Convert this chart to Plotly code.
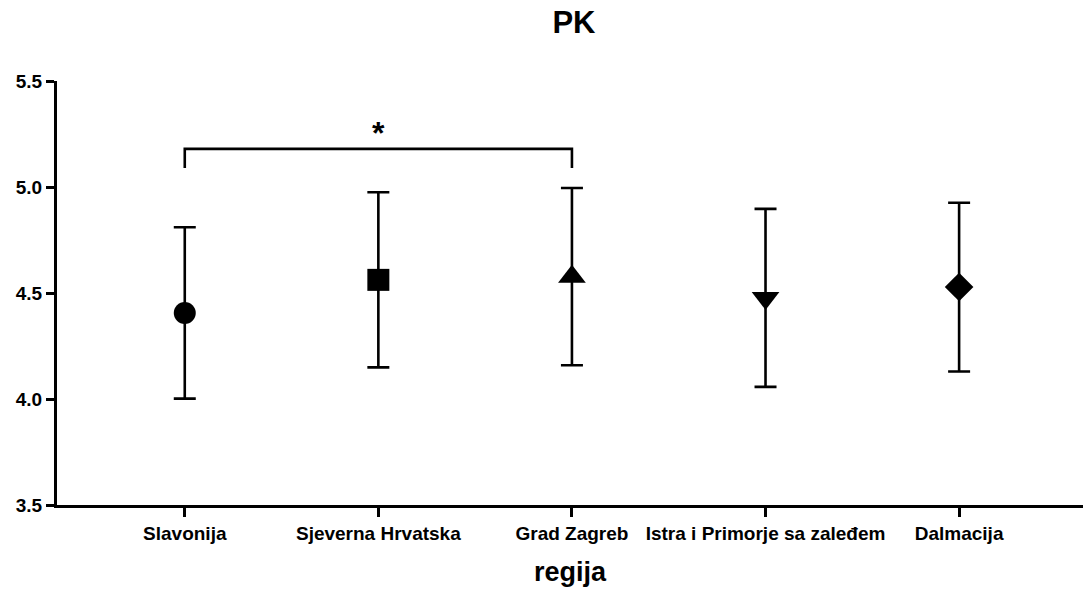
import plotly.graph_objects as go

# Mean and error per region
regions = ["Slavonija", "Sjeverna Hrvatska", "Grad Zagreb",
           "Istra i Primorje sa zaleđem", "Dalmacija"]
means = [4.406, 4.562, 4.577, 4.477, 4.528]
errors = [0.404, 0.413, 0.418, 0.420, 0.398]
symbols = ["circle", "square", "triangle-up", "triangle-down", "diamond"]
sizes = [22, 22, 24, 24, 22]

# Significance bracket between Slavonija and Grad Zagreb
bracket_pair = (0, 2)
bracket_y = 5.18
bracket_drop = 5.09
bracket_label = "*"

FONT = "Arial, Liberation Sans, sans-serif"

fig = go.Figure()
for i, (name, m, e, s, sz) in enumerate(zip(regions, means, errors, symbols, sizes)):
    fig.add_trace(go.Scatter(
        x=[i], y=[m], mode="markers", name=name,
        marker=dict(symbol=s, size=sz, color="black"),
        error_y=dict(type="data", array=[e], color="black",
                     thickness=2.6, width=11),
        showlegend=False,
    ))

x0, x1 = bracket_pair
fig.add_shape(type="path",
              path=f"M {x0},{bracket_drop} L {x0},{bracket_y} L {x1},{bracket_y} L {x1},{bracket_drop}",
              line=dict(color="black", width=2.6), xref="x", yref="y")
fig.add_annotation(x=(x0 + x1) / 2, y=bracket_y, text=f"<b>{bracket_label}</b>",
                   showarrow=False, yanchor="bottom", yshift=-4,
                   font=dict(family=FONT, size=32, color="black"))

fig.update_layout(
    width=1083, height=590,
    margin=dict(l=57, r=0, t=81, b=85, autoexpand=False),
    paper_bgcolor="white", plot_bgcolor="white",
    title=dict(text="<b>PK</b>", x=0.53, xanchor="center", y=0.962, yanchor="middle",
               font=dict(family=FONT, size=31, color="black")),
    font=dict(family=FONT, color="black"),
)
fig.update_xaxes(
    range=[-0.66, 4.64], tickmode="array", tickvals=list(range(len(regions))),
    ticktext=[f"<b>{r}</b>" for r in regions],
    tickfont=dict(family=FONT, size=19, color="black"),
    showline=True, linecolor="black", linewidth=3,
    ticks="outside", ticklen=9, tickwidth=2.5, tickcolor="black",
    showgrid=False, zeroline=False,
    title=dict(text="<b>regija</b>", font=dict(family=FONT, size=27, color="black"), standoff=20),
)
fig.update_yaxes(
    range=[3.5, 5.5], tickvals=[3.5, 4.0, 4.5, 5.0, 5.5],
    ticktext=["<b>3.5</b>", "<b>4.0</b>", "<b>4.5</b>", "<b>5.0</b>", "<b>5.5</b>"],
    tickfont=dict(family=FONT, size=19, color="black"),
    showline=True, linecolor="black", linewidth=3,
    ticks="outside", ticklen=8, tickwidth=2.5, tickcolor="black",
    showgrid=False, zeroline=False,
)

fig.write_html("out.html")
